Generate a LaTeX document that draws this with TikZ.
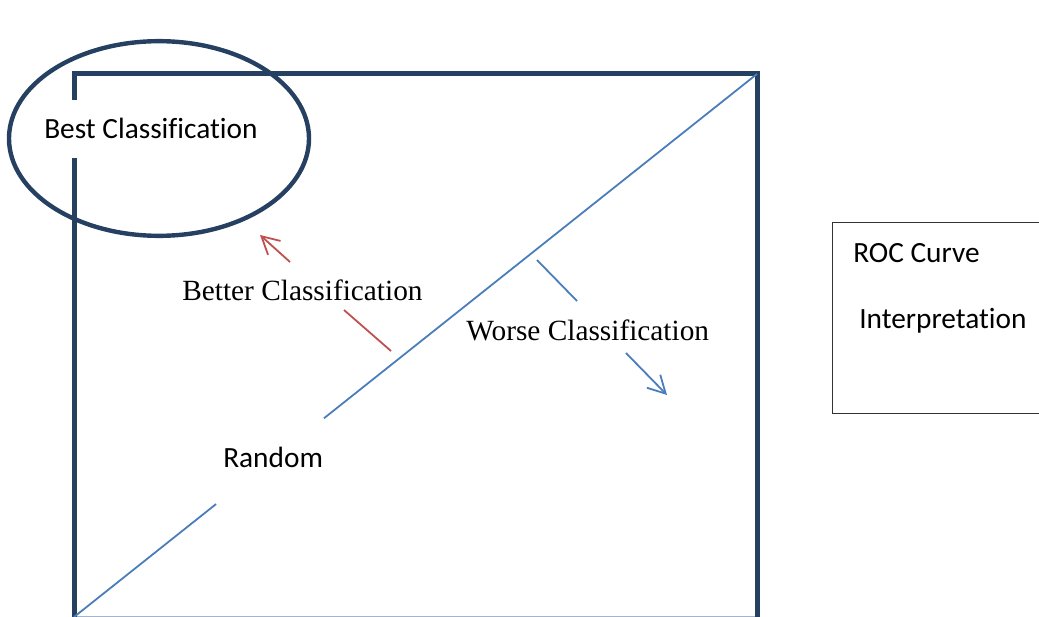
\documentclass[tikz,border=0pt]{standalone}
\usepackage{fontspec}
\setmainfont{Liberation Serif}
\newfontfamily\calibri[Ligatures=NoCommon]{Carlito}
\usetikzlibrary{arrows.meta,shapes.geometric,calc}
\definecolor{framecol}{RGB}{38,64,98}
\definecolor{diagcol}{RGB}{74,126,187}
\definecolor{betcol}{RGB}{192,80,77}
\definecolor{edgecol}{RGB}{165,180,202}
\tikzset{
  framebar/.style={draw=framecol, line width=3.75pt},
  diagline/.style={draw=diagcol, line width=1.35pt},
  betline/.style={draw=betcol, line width=1.35pt},
  openhead/.style={-{Straight Barb[length=13pt,width=14pt]}},
  sanstxt/.style={font=\calibri\fontsize{22}{26}\selectfont, inner sep=0pt},
  seriftxt/.style={font=\fontsize{22}{26}\selectfont, inner sep=0pt}
}
\begin{document}
\begin{tikzpicture}[x=0.75pt,y=-0.75pt]
\useasboundingbox (0,0) rectangle (1039,617);

% frame of the plot
\coordinate (o) at (74,617);
\coordinate (tl) at (74,74);
\coordinate (tr) at (757,74);
\coordinate (br) at (757,617);
\coordinate (gapt) at (74,100);
\coordinate (gapb) at (74,158);
\draw[draw=edgecol, line width=1.1pt] (o) -- (br);
\draw[framebar] (gapb) -- (o);
\draw[framebar] (gapt) -- (tl) -- (tr) -- (br);

% random guess diagonal
\coordinate (r1) at ($(o)!0.208!(tr)$);
\coordinate (r2) at ($(o)!0.366!(tr)$);
\draw[diagline] (o) -- (r1);
\draw[diagline] (r2) -- (tr);

% best corner
\node[ellipse, draw=framecol, line width=3.3pt, inner sep=0pt,
      minimum width=225pt, minimum height=146pt] (bestring) at (159,138.5) {};
\node[sanstxt, anchor=base west] (best) at (44,138) {Best Classification};
\node[sanstxt, anchor=base west] (random) at (223,467) {Random};

% better
\coordinate (b1) at (391,351);
\coordinate (b2) at (344,310);
\coordinate (b3) at (290,262);
\coordinate (b4) at (260,235);
\draw[betline] (b1) -- (b2);
\draw[betline, openhead] (b3) -- (b4);
\node[seriftxt, anchor=base west] (better) at (182,300) {Better Classification};

% worse
\coordinate (w1) at (537,260);
\coordinate (w2) at (577,301);
\coordinate (w3) at (626,353);
\coordinate (w4) at (667,395);
\draw[diagline] (w1) -- (w2);
\draw[diagline, openhead] (w3) -- (w4);
\node[seriftxt, anchor=base west] (worse) at (466,340) {Worse Classification};

% side box
\node[draw=black!80, line width=0.75pt, inner sep=0pt, anchor=north west,
      minimum width=160pt, minimum height=143pt] (roc) at (832,222) {};
\node[sanstxt, anchor=base west] (roctitle) at (853,262) {ROC Curve};
\node[sanstxt, anchor=base west] (rocsub) at (859,328) {Interpretation};
\end{tikzpicture}
\end{document}
